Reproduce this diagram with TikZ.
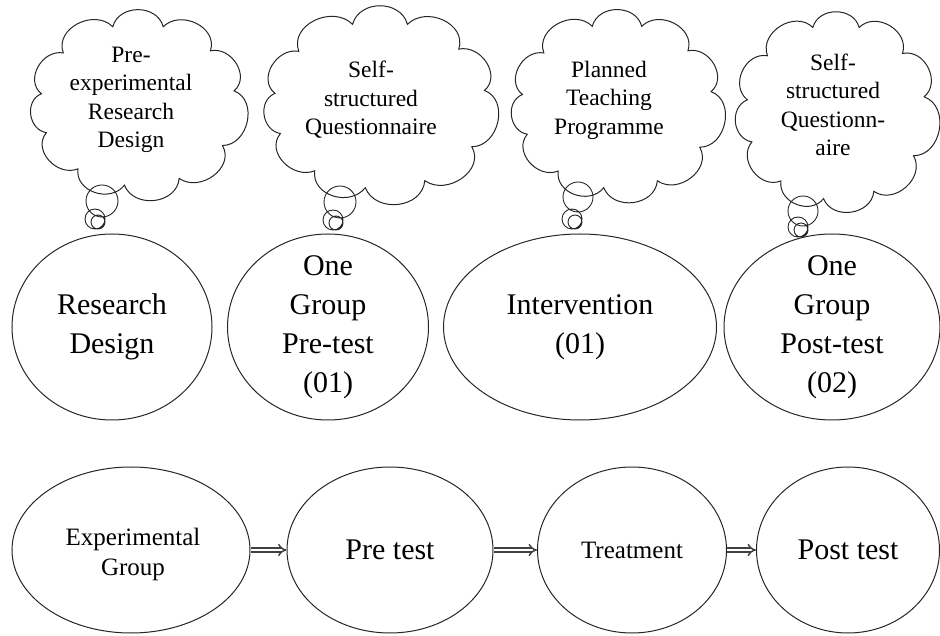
\documentclass[tikz,border=0pt]{standalone}
\usepackage{fontspec}
\setmainfont{Liberation Serif}
\usetikzlibrary{shapes.geometric,arrows.meta}

\tikzset{
  stage/.style={ellipse,draw=black!85,line width=1pt,inner sep=0pt},
  stagetext/.style={align=center,font=\fontsize{30}{39}\selectfont},
  flowtext/.style={align=center,font=\fontsize{25}{30}\selectfont},
  thought/.style={draw=black!85,line width=1pt},
  thoughttext/.style={align=center,font=\fontsize{23.5}{28.5}\selectfont},
  bubble/.style={draw=black!85,line width=0.9pt},
  flow/.style={draw=black!75,double=white,double distance=2.6pt,line width=1.5pt,-{Implies}}
}

% cloud: centre x, centre y, x radius, y radius of the puff line
\newcommand\thoughtcloud[4]{%
  \draw[thought] ([shift={(#1,#2)}]10:#3 and #4)
  \foreach \a/\b in {10/42,42/75,75/105,105/140,140/172,172/200,
                     200/232,232/262,262/295,295/330,330/370}
  { to[out=\a+30,in=\b-30,looseness=1.2] ([shift={(#1,#2)}]\b:#3 and #4) } -- cycle;
}

\begin{document}
\begin{tikzpicture}[x=1pt,y=1pt]
\useasboundingbox (0,0) rectangle (940,635);
% The thought clouds
\thoughtcloud{138}{530}{97.5}{81}
\thoughtcloud{380}{530}{106}{83.5}
\thoughtcloud{617}{529}{95.5}{82.5}
\thoughtcloud{836}{523}{89.5}{87.5}
\node[thoughttext] (idea1txt) at (131,535) {Pre-\\experimental\\Research\\Design};
\node[thoughttext] (idea2txt) at (371,535) {Self-\\structured\\Questionnaire};
\node[thoughttext] (idea3txt) at (609,535) {Planned\\Teaching\\Programme};
\node[thoughttext] (idea4txt) at (833,530) {Self-\\structured\\Questionn-\\aire};
% The little bubbles under the clouds
\draw[bubble] (102,434) circle (16) (95,416) circle (10) (98,413) circle (7);
\draw[bubble] (340,433) circle (16) (333,415) circle (10) (336,412) circle (7);
\draw[bubble] (578,438) circle (15) (572,416) circle (10) (575,413) circle (7);
\draw[bubble] (803,424) circle (15) (798,408) circle (10) (801,405) circle (7);
% The design row
\node[stage,minimum width=200pt,minimum height=186pt] (design) at (112,308) {};
\node[stage,minimum width=201pt,minimum height=186pt] (pretest) at (328,308) {};
\node[stage,minimum width=273pt,minimum height=186pt] (interv) at (580,308) {};
\node[stage,minimum width=216pt,minimum height=186pt] (posttest) at (832,308) {};
\node[stagetext] (designtxt) at (design) {Research\\Design};
\node[stagetext] (pretesttxt) at (pretest) {One\\Group\\Pre-test\\(01)};
\node[stagetext] (intervtxt) at (interv) {Intervention\\(01)};
\node[stagetext] (posttesttxt) at (posttest) {One\\Group\\Post-test\\(02)};
% The flow row
\node[stage,minimum width=238pt,minimum height=166pt] (group) at (131,85) {};
\node[stage,minimum width=206pt,minimum height=166pt] (pre) at (390,85) {};
\node[stage,minimum width=189pt,minimum height=166pt] (treat) at (632,85) {};
\node[stage,minimum width=183pt,minimum height=166pt] (post) at (848,85) {};
\node[flowtext] (grouptxt) at (133,81) {Experimental\\Group};
\node[stagetext] (pretxt) at (pre) {Pre test};
\node[flowtext] (treattxt) at (treat) {Treatment};
\node[stagetext] (posttxt) at (post) {Post test};
\draw[flow] (group.east) -- (pre.west);
\draw[flow] (pre.east) -- (treat.west);
\draw[flow] (treat.east) -- (post.west);
\end{tikzpicture}
\end{document}
